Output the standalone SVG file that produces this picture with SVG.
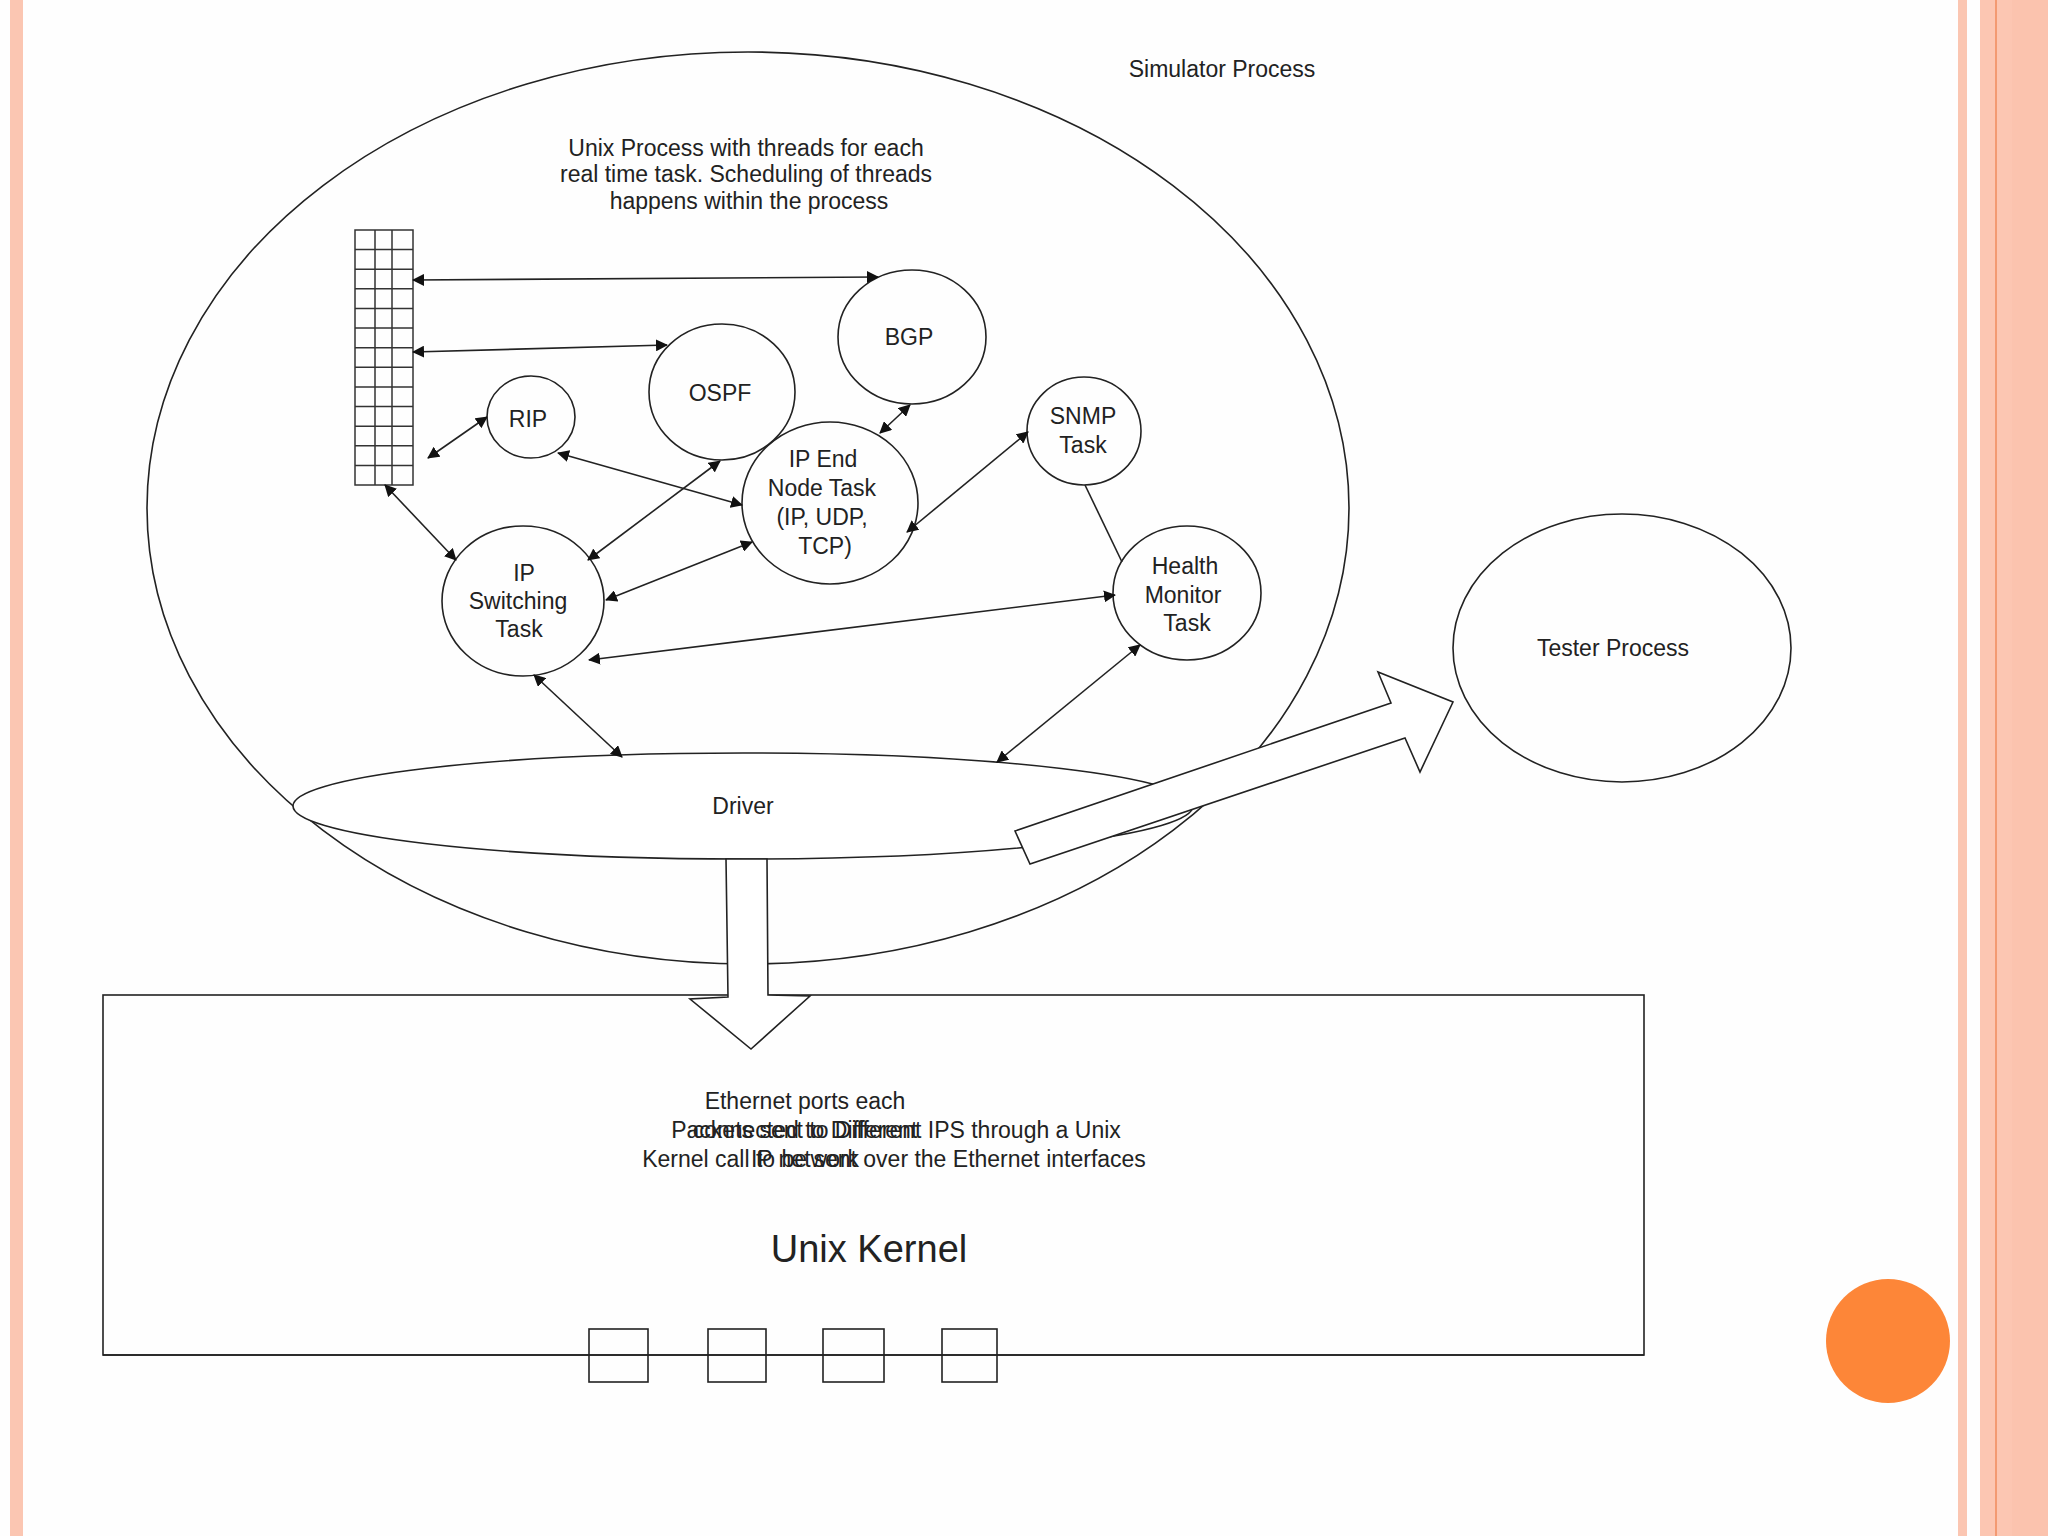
<svg xmlns="http://www.w3.org/2000/svg" width="2048" height="1536" viewBox="0 0 2048 1536">
<defs>
<style>
.ln{fill:none;stroke:#222;stroke-width:1.6}
.sh{fill:#fff;stroke:#222;stroke-width:1.6}
.ar{fill:none;stroke:#222;stroke-width:1.6;marker-start:url(#ah);marker-end:url(#ah)}
.t{font-family:"Liberation Sans",Arial,sans-serif;font-size:23px;fill:#222;text-anchor:middle}
.g{fill:none;stroke:#333;stroke-width:1.5}
</style>
<marker id="ah" viewBox="0 0 12 12" refX="11" refY="6" markerWidth="12" markerHeight="12" markerUnits="userSpaceOnUse" orient="auto-start-reverse">
<path d="M0,0 L12,6 L0,12 z" fill="#111"/>
</marker>
</defs>
<rect width="2048" height="1536" fill="#fefefe"/>
<g id="frame">
<rect x="10" y="0" width="13" height="1536" fill="#fbc6b2"/>
<rect x="1958" y="0" width="9" height="1536" fill="#fbc6b2"/>
<rect x="1980" y="0" width="68" height="1536" fill="#fcc6b2"/>
<rect x="1995" y="0" width="2" height="1536" fill="#f39a72"/>
<rect x="2012" y="0" width="36" height="1536" fill="#fbc3ae"/>
<circle cx="1888" cy="1341" r="62" fill="#fd8638"/>
</g>
<g id="simulator">
<ellipse class="ln" cx="748" cy="508" rx="601" ry="456"/>
<text class="t" x="1222" y="77">Simulator Process</text>
<text class="t" x="746" y="156">Unix Process with threads for each</text>
<text class="t" x="746" y="182">real time task. Scheduling of threads</text>
<text class="t" x="749" y="209">happens within the process</text>
</g>
<g id="queue">
<rect class="g" x="355" y="230" width="58" height="255"/>
<path class="g" d="M375,230V485M392,230V485M355,249.6H413M355,269.2H413M355,288.8H413M355,308.5H413M355,328.1H413M355,347.7H413M355,367.3H413M355,386.9H413M355,406.5H413M355,426.2H413M355,445.8H413M355,465.4H413"/>
</g>
<g id="driver">
<ellipse class="sh" cx="743" cy="806" rx="450" ry="53"/>
<text class="t" x="743" y="814">Driver</text>
</g>
<g id="kernel">
<rect class="ln" x="103" y="995" width="1541" height="360"/>
<rect class="ln" x="589" y="1329" width="59" height="53"/>
<rect class="ln" x="708" y="1329" width="58" height="53"/>
<rect class="ln" x="823" y="1329" width="61" height="53"/>
<rect class="ln" x="942" y="1329" width="55" height="53"/>
<path class="ln" d="M103,1355H1644"/>
<text class="t" x="805" y="1109">Ethernet ports each</text>
<text class="t" x="805" y="1138">connected to Different</text>
<text class="t" x="805" y="1167">IP network</text>
<text class="t" x="896" y="1138">Packets sent to Different IPS through a Unix</text>
<text class="t" x="894" y="1167">Kernel call to be sent over the Ethernet interfaces</text>
<text class="t" x="869" y="1262" style="font-size:38px">Unix Kernel</text>
</g>
<g id="big-arrows">
<polygon class="sh" points="726,859 728,997 690,999 751,1049 810,996 768,995 767,859"/>
<polygon class="sh" points="1015,831 1391,703 1378,672 1453,702 1420,772 1405,738 1030,864"/>
</g>
<g id="tester">
<ellipse class="ln" cx="1622" cy="648" rx="169" ry="134"/>
<text class="t" x="1613" y="656">Tester Process</text>
</g>
<g id="rip">
<ellipse class="ln" cx="531" cy="417" rx="44" ry="41"/>
<text class="t" x="528" y="427">RIP</text>
</g>
<g id="ospf">
<ellipse class="ln" cx="722" cy="392" rx="73" ry="68"/>
<text class="t" x="720" y="401">OSPF</text>
</g>
<g id="bgp">
<ellipse class="ln" cx="912" cy="337" rx="74" ry="67"/>
<text class="t" x="909" y="345">BGP</text>
</g>
<g id="ipend">
<ellipse class="ln" cx="830" cy="503" rx="88" ry="81"/>
<text class="t" x="823" y="467">IP End</text>
<text class="t" x="822" y="496">Node Task</text>
<text class="t" x="822" y="525">(IP, UDP,</text>
<text class="t" x="825" y="554">TCP)</text>
</g>
<g id="snmp">
<ellipse class="ln" cx="1084" cy="431" rx="57" ry="54"/>
<text class="t" x="1083" y="424">SNMP</text>
<text class="t" x="1083" y="453">Task</text>
</g>
<g id="health">
<ellipse class="ln" cx="1187" cy="593" rx="74" ry="67"/>
<text class="t" x="1185" y="574">Health</text>
<text class="t" x="1183" y="603">Monitor</text>
<text class="t" x="1187" y="631">Task</text>
</g>
<g id="ipswitch">
<ellipse class="ln" cx="523" cy="601" rx="81" ry="75"/>
<text class="t" x="524" y="581">IP</text>
<text class="t" x="518" y="609">Switching</text>
<text class="t" x="519" y="637">Task</text>
</g>
<g id="connectors">
<path class="ar" d="M413,280L878,277"/>
<path class="ar" d="M413,352L667,345"/>
<path class="ar" d="M428,458L487,417"/>
<path class="ar" d="M558,453L742,505"/>
<path class="ar" d="M385,485L456,560"/>
<path class="ar" d="M720,461L588,560"/>
<path class="ar" d="M606,600L752,542"/>
<path class="ar" d="M589,660L1115,595"/>
<path class="ar" d="M534,675L622,757"/>
<path class="ar" d="M910,405L880,433"/>
<path class="ar" d="M1028,432L907,532"/>
<path class="ln" d="M1085,485L1122,562"/>
<path class="ar" d="M1140,645L997,762"/>
</g>
</svg>
